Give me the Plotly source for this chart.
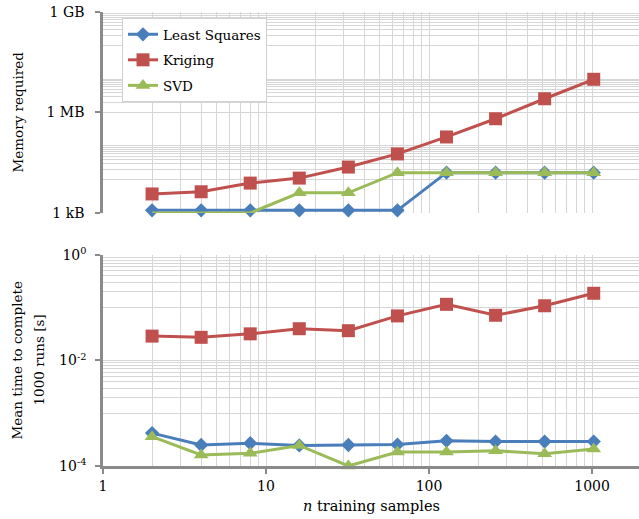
import plotly.graph_objects as go

# Training-set sizes
n_samples = [2, 4, 8, 16, 32, 64, 128, 256, 512, 1024]

# Memory required (bytes)
mem_least_squares = [1.2e3, 1.2e3, 1.2e3, 1.2e3, 1.2e3, 1.2e3, 1.6e4, 1.6e4, 1.6e4, 1.6e4]
mem_kriging = [3.7e3, 4.3e3, 7.8e3, 1.1e4, 2.35e4, 5.8e4, 1.86e5, 6.5e5, 2.57e6, 9.8e6]
mem_svd = [1.0e3, 1.0e3, 1.0e3, 4.0e3, 4.0e3, 1.6e4, 1.6e4, 1.6e4, 1.6e4, 1.6e4]

# Mean time to complete 1000 runs (s)
time_least_squares = [4.2e-4, 2.5e-4, 2.7e-4, 2.45e-4, 2.5e-4, 2.55e-4, 3.0e-4, 2.9e-4, 2.9e-4, 2.9e-4]
time_kriging = [0.029, 0.0275, 0.032, 0.040, 0.0367, 0.070, 0.116, 0.072, 0.109, 0.188]
time_svd = [3.6e-4, 1.62e-4, 1.74e-4, 2.45e-4, 1.0e-4, 1.84e-4, 1.84e-4, 1.95e-4, 1.7e-4, 2.1e-4]

series_names = ["Least Squares", "Kriging", "SVD"]
mem_series = [mem_least_squares, mem_kriging, mem_svd]
time_series = [time_least_squares, time_kriging, time_svd]

x_tick_vals = [1, 10, 100, 1000]
x_tick_text = ["1", "10", "100", "1000"]
mem_tick_vals = [1e3, 1e6, 1e9]
mem_tick_text = ["1 kB", "1 MB", "1 GB"]
time_tick_vals = [1e-4, 1e-2, 1e0]
time_tick_text = ["10<sup>-4</sup>", "10<sup>-2</sup>", "10<sup>0</sup>"]

colors = ["#4a7ebb", "#c0504d", "#9bbb59"]
symbols = ["diamond", "square", "triangle-up"]
marker_sizes = [11, 13, 13]

FONT = "DejaVu Serif"
TICK_SIZE = 14
TITLE_SIZE = 13.5
GRID = "#d6d6d6"
AXIS = "#8a8a8a"

# Grid positions (light lines, no tick marks)
x_grid = [m * 10 ** k for k in (0, 1, 2) for m in range(1, 10)] + [1000]
mem_grid = [m * 10 ** k for k in (4, 6, 8) for m in range(1, 11)]
time_grid = [m * 10.0 ** k for k in (-3, -1) for m in range(1, 11)]

fig = go.Figure()

for i, name in enumerate(series_names):
    style = dict(
        mode="lines+markers",
        line=dict(color=colors[i], width=3),
        marker=dict(symbol=symbols[i], size=marker_sizes[i], color=colors[i]),
        legendgroup=name,
        cliponaxis=False,
    )
    fig.add_trace(go.Scatter(x=n_samples, y=mem_series[i], name=name,
                             xaxis="x2", yaxis="y2", showlegend=True, **style))

for i, name in enumerate(series_names):
    style = dict(
        mode="lines+markers",
        line=dict(color=colors[i], width=3),
        marker=dict(symbol=symbols[i], size=marker_sizes[i], color=colors[i]),
        legendgroup=name,
        cliponaxis=False,
    )
    fig.add_trace(go.Scatter(x=n_samples, y=time_series[i], name=name,
                             xaxis="x", yaxis="y", showlegend=False, **style))

x_range = [0, 3.288]
lower_top = 0.4648
upper_bottom = 0.5573

tick_font = dict(family=FONT, size=TICK_SIZE, color="#000000")
title_font = dict(family=FONT, size=TITLE_SIZE, color="#000000")

fig.update_layout(
    width=639,
    height=519,
    margin=dict(l=103, r=0, t=12, b=53),
    paper_bgcolor="white",
    plot_bgcolor="white",
    font=dict(family=FONT, size=TICK_SIZE, color="#000000"),
    xaxis=dict(
        type="log", range=x_range, domain=[0, 1], anchor="y",
        tickmode="array", tickvals=x_tick_vals, ticktext=x_tick_text,
        showgrid=False, zeroline=False,
        showline=True, linecolor=AXIS, linewidth=2.5,
        ticks="outside", ticklen=5, tickwidth=2, tickcolor=AXIS,
        ticklabelstandoff=0,
        tickfont=tick_font,
        minor=dict(tickmode="array", tickvals=x_grid, showgrid=True,
                   gridcolor=GRID, gridwidth=1, ticks=""),
    ),
    yaxis=dict(
        type="log", range=[-4, 0], domain=[0, lower_top], anchor="x",
        tickmode="array", tickvals=time_tick_vals, ticktext=time_tick_text,
        showgrid=True, gridcolor=GRID, gridwidth=1, zeroline=False,
        showline=True, linecolor=AXIS, linewidth=2.5,
        ticks="outside", ticklen=5, tickwidth=2, tickcolor=AXIS,
        ticklabelstandoff=6,
        tickfont=tick_font,
        minor=dict(tickmode="array", tickvals=time_grid, showgrid=True,
                   gridcolor=GRID, gridwidth=1, ticks=""),
    ),
    xaxis2=dict(
        type="log", range=x_range, domain=[0, 1], anchor="y2", matches="x",
        showticklabels=False, ticks="", showline=False,
        showgrid=False, zeroline=False,
        minor=dict(tickmode="array", tickvals=x_grid, showgrid=True,
                   gridcolor=GRID, gridwidth=1, ticks=""),
    ),
    yaxis2=dict(
        type="log", range=[3, 9], domain=[upper_bottom, 1], anchor="x2",
        tickmode="array", tickvals=mem_tick_vals, ticktext=mem_tick_text,
        showgrid=False, zeroline=False,
        showline=True, linecolor=AXIS, linewidth=2.5,
        ticks="outside", ticklen=5, tickwidth=2, tickcolor=AXIS,
        ticklabelstandoff=8,
        tickfont=tick_font,
        minor=dict(tickmode="array", tickvals=mem_grid, showgrid=True,
                   gridcolor=GRID, gridwidth=1, ticks=""),
    ),
    legend=dict(
        x=(122 - 103) / 536, y=(466 - 18) / 454,
        xanchor="left", yanchor="top",
        bgcolor="white", bordercolor="#d0d0d0", borderwidth=1,
        font=dict(family=FONT, size=TITLE_SIZE, color="#000000"),
        tracegroupgap=5,
        itemwidth=30,
    ),
    annotations=[
        dict(text="Memory required", xref="paper", yref="paper",
             x=0, y=(upper_bottom + 1) / 2, xshift=-85, xanchor="center",
             yanchor="middle", textangle=-90, showarrow=False,
             font=title_font),
        dict(text="Mean time to complete", xref="paper", yref="paper",
             x=0, y=lower_top / 2, xshift=-86, xanchor="center",
             yanchor="middle", textangle=-90, showarrow=False,
             font=title_font),
        dict(text="1000 runs [s]", xref="paper", yref="paper",
             x=0, y=lower_top / 2, xshift=-64, xanchor="center",
             yanchor="middle", textangle=-90, showarrow=False,
             font=title_font),
        dict(text="<i>n</i> training samples", xref="paper", yref="paper",
             x=0.5, y=0, yshift=-40, xanchor="center", yanchor="middle",
             showarrow=False, font=dict(family=FONT, size=14.5, color="#000000")),
    ],
)

fig.write_html("out.html")
